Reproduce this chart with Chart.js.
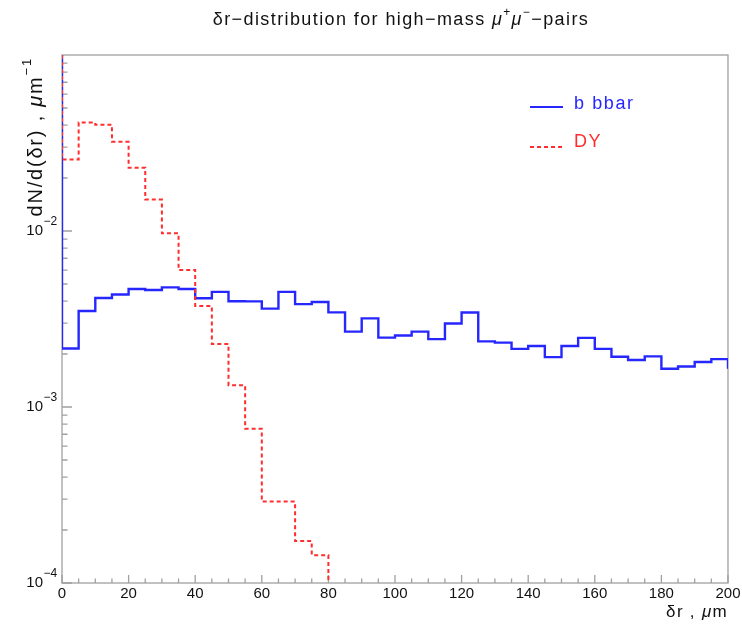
<!DOCTYPE html>
<html>
<head>
<meta charset="utf-8">
<script src="https://cdn.jsdelivr.net/npm/chart.js@4/dist/chart.umd.min.js"></script>
<style>
  html, body { margin: 0; padding: 0; background: #fff; }
  canvas { display: block; }
</style>
</head>
<body>
<canvas id="chart" width="742" height="624"></canvas>
<script>
// Low edges of the δr bins (μm); every bin is 5 μm wide
const binEdges = [0, 5, 10, 15, 20, 25, 30, 35, 40, 45, 50, 55, 60, 65, 70, 75, 80, 85, 90, 95,
                  100, 105, 110, 115, 120, 125, 130, 135, 140, 145, 150, 155, 160, 165, 170, 175, 180, 185, 190, 195];
const binWidth = 5;

// dN/d(δr) per bin, μm⁻¹
const bbarValues = [0.00215, 0.00351, 0.00416, 0.00436, 0.00468, 0.00462, 0.00478, 0.00468, 0.00415, 0.00451,
                    0.00399, 0.00398, 0.00362, 0.00451, 0.00384, 0.00395, 0.00345, 0.00268, 0.00319, 0.00248,
                    0.00255, 0.00268, 0.00243, 0.00298, 0.00344, 0.00236, 0.00232, 0.00214, 0.00222, 0.00192,
                    0.00222, 0.00247, 0.00214, 0.00193, 0.00185, 0.00194, 0.00165, 0.00170, 0.00180, 0.00187];
const bbarOverflow = 0.00165;

const dyValues = [0.0255, 0.0413, 0.0401, 0.0321, 0.0229, 0.0151, 0.0097, 0.0060, 0.00375, 0.00228,
                  0.00133, 0.000753, 0.00029, 0.00029, 0.000173, 0.000144, 0, 0, 0, 0,
                  0, 0, 0, 0, 0, 0, 0, 0, 0, 0,
                  0, 0, 0, 0, 0, 0, 0, 0, 0, 0];
const dyOverflow = 0;

// Axis ranges and labelled ticks
const xTickLabels = [0, 20, 40, 60, 80, 100, 120, 140, 160, 180, 200];
const yDecadeLabels = [-4, -3, -2];
const X_MIN = 0, X_MAX = 200;
const Y_MIN = 1e-4, Y_MAX = 0.1;

const FONT = '"Liberation Sans", Arial, Helvetica, sans-serif';
const BLUE = 'rgb(38, 38, 255)';
const RED = 'rgb(255, 45, 45)';
const FRAME = '#a0a0a0';
const INK = '#111';

// Turn per-bin contents into step-outline vertices. The outline starts at
// the top of the frame on the left edge; an empty bin ends the outline at the floor.
function histPoints(values, overflow) {
  const pts = [{ x: binEdges[0], y: Y_MAX }];
  for (let i = 0; i < values.length; i++) {
    const v = values[i];
    if (!(v > 0)) {
      pts.push({ x: binEdges[i], y: Y_MIN });
      return pts;
    }
    pts.push({ x: binEdges[i], y: v });
  }
  pts.push({ x: binEdges[values.length - 1] + binWidth, y: overflow > 0 ? overflow : Y_MIN });
  return pts;
}

// Text with italic and superscript runs
function segFont(s, size) {
  return (s.it ? 'italic ' : '') + (s.sup ? Math.round(size * 0.66) : size) + 'px ' + FONT;
}
function drawRich(ctx, segs, x, y, align, size, color, spacing) {
  ctx.save();
  ctx.letterSpacing = (spacing || 0) + 'px';
  ctx.fillStyle = color;
  ctx.textBaseline = 'middle';
  ctx.textAlign = 'left';
  let w = 0;
  for (const s of segs) {
    ctx.font = segFont(s, size);
    w += ctx.measureText(s.t).width;
  }
  let cx = align === 'center' ? x - w / 2 : align === 'right' ? x - w : x;
  for (const s of segs) {
    ctx.font = segFont(s, size);
    ctx.fillText(s.t, cx, s.sup ? y - size * 0.42 : y);
    cx += ctx.measureText(s.t).width;
  }
  ctx.restore();
}

// Frame with inward-pointing tick marks, axis labels, titles and legend
const framePlugin = {
  id: 'frame',
  beforeDatasetsDraw(chart) {
    const { ctx, chartArea: a, scales: { x, y } } = chart;
    ctx.save();
    ctx.strokeStyle = FRAME;
    ctx.lineWidth = 1.3;
    ctx.strokeRect(a.left, a.top, a.right - a.left, a.bottom - a.top);
    ctx.beginPath();
    for (let v = X_MIN; v <= X_MAX; v += 5) {
      const px = x.getPixelForValue(v);
      const len = v % 20 === 0 ? 8 : 4.5;
      ctx.moveTo(px, a.bottom);
      ctx.lineTo(px, a.bottom - len);
    }
    for (let e = Math.log10(Y_MIN); e < Math.log10(Y_MAX); e++) {
      for (let m = 1; m <= 9; m++) {
        const py = y.getPixelForValue(m * Math.pow(10, e));
        const len = m === 1 ? 10 : 5.5;
        ctx.moveTo(a.left, py);
        ctx.lineTo(a.left + len, py);
      }
    }
    ctx.stroke();
    ctx.restore();
  },
  afterDraw(chart) {
    const { ctx, chartArea: a, scales: { y } } = chart;

    // decade labels 10^n on the logarithmic axis
    for (const e of yDecadeLabels) {
      const py = y.getPixelForValue(Math.pow(10, e));
      drawRich(ctx, [{ t: '10' }], 43, py, 'right', 15, INK, 0);
      drawRich(ctx, [{ t: '\u2212' + Math.abs(e) }], 43.5, py - 9, 'left', 12, INK, 0);
    }

    // title
    drawRich(ctx, [
      { t: '\u03b4r\u2212distribution for high\u2212mass ' },
      { t: '\u03bc', it: true }, { t: '+', sup: true },
      { t: '\u03bc', it: true }, { t: '\u2212', sup: true },
      { t: '\u2212pairs' }
    ], 401, 20, 'center', 18, INK, 1.4);

    // axis titles
    drawRich(ctx, [{ t: '\u03b4r , ' }, { t: '\u03bc', it: true }, { t: 'm' }],
      a.right, 612, 'right', 17, INK, 1.3);
    ctx.save();
    ctx.translate(36, a.top + 2);
    ctx.rotate(-Math.PI / 2);
    drawRich(ctx, [{ t: 'dN/d(\u03b4r) , ' }, { t: '\u03bc', it: true }, { t: 'm' }, { t: '\u22121', sup: true }],
      0, 0, 'right', 20, INK, 1.8);
    ctx.restore();

    // legend
    const items = [
      { label: 'b bbar', color: BLUE, dash: [], ly: 107, ty: 104 },
      { label: 'DY', color: RED, dash: [4, 3], ly: 147, ty: 142 }
    ];
    for (const it of items) {
      ctx.save();
      ctx.strokeStyle = it.color;
      ctx.lineWidth = 2;
      ctx.setLineDash(it.dash);
      ctx.beginPath();
      ctx.moveTo(530, it.ly);
      ctx.lineTo(563, it.ly);
      ctx.stroke();
      ctx.restore();
      drawRich(ctx, [{ t: it.label }], 574, it.ty, 'left', 18, it.color, 1.6);
    }
  }
};

new Chart(document.getElementById('chart'), {
  type: 'line',
  data: {
    datasets: [
      {
        label: 'DY',
        data: histPoints(dyValues, dyOverflow),
        borderColor: RED,
        borderWidth: 2,
        borderDash: [4, 3],
        stepped: 'before',
        pointRadius: 0,
        fill: false,
        order: 0
      },
      {
        label: 'b bbar',
        data: histPoints(bbarValues, bbarOverflow),
        borderColor: BLUE,
        borderWidth: 2.4,
        stepped: 'before',
        pointRadius: 0,
        fill: false,
        order: 1
      }
    ]
  },
  options: {
    responsive: false,
    animation: false,
    devicePixelRatio: 1,
    layout: { padding: { top: 55, right: 13, left: 0, bottom: 0 } },
    plugins: {
      legend: { display: false },
      title: { display: false },
      tooltip: { enabled: false }
    },
    scales: {
      x: {
        type: 'linear',
        min: X_MIN,
        max: X_MAX,
        grid: { display: false, drawTicks: false },
        border: { display: false },
        afterBuildTicks(scale) { scale.ticks = xTickLabels.map(v => ({ value: v })); },
        ticks: {
          autoSkip: false,
          maxRotation: 0,
          padding: 1.5,
          color: INK,
          font: { family: FONT, size: 15 }
        },
        afterFit(scale) { scale.height = 41; }
      },
      y: {
        type: 'logarithmic',
        min: Y_MIN,
        max: Y_MAX,
        grid: { display: false, drawTicks: false },
        border: { display: false },
        ticks: { display: false },
        afterFit(scale) { scale.width = 62; }
      }
    }
  },
  plugins: [framePlugin]
});
</script>
</body>
</html>
